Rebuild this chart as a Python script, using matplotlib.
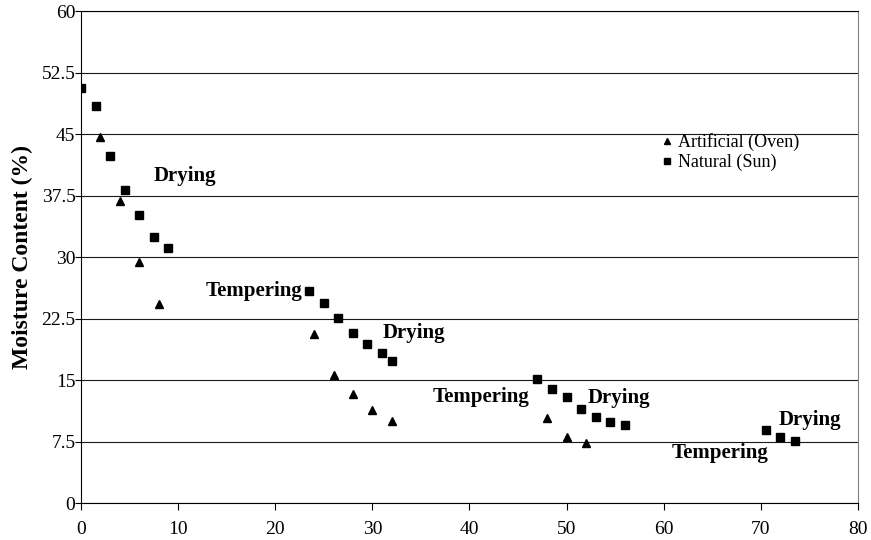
import matplotlib.pyplot as plt
from matplotlib.ticker import MultipleLocator

plt.rcParams['font.family'] = ['Liberation Serif', 'DejaVu Serif']

# drying time (h) vs moisture content (%)
oven_x = [2, 4, 6, 8, 24, 26, 28, 30, 32, 48, 50, 52]
oven_y = [44.6, 36.8, 29.4, 24.3, 20.6, 15.6, 13.3, 11.3, 10.0, 10.4, 8.0, 7.3]

sun_x = [0, 1.5, 3, 4.5, 6, 7.5, 9,
         23.5, 25, 26.5, 28, 29.5, 31, 32,
         47, 48.5, 50, 51.5, 53, 54.5, 56,
         70.5, 72, 73.5]
sun_y = [50.6, 48.4, 42.3, 38.2, 35.1, 32.4, 31.1,
         25.9, 24.4, 22.6, 20.7, 19.4, 18.3, 17.3,
         15.1, 13.9, 12.9, 11.5, 10.5, 9.9, 9.5,
         8.9, 8.0, 7.6]

phase_labels = ['Drying', 'Tempering', 'Drying', 'Tempering', 'Drying', 'Drying', 'Tempering']
phase_x = [10.7, 22.8, 34.3, 41.2, 55.4, 75.1, 65.8]
phase_y = [39.9, 25.9, 20.7, 12.9, 12.8, 10.1, 6.1]
phase_ha = ['center', 'right', 'center', 'center', 'center', 'center', 'center']

fig = plt.figure(figsize=(8.71, 5.40), dpi=100)
ax = fig.add_axes([0.093, 0.0685, 0.892, 0.911])

ax.plot(oven_x, oven_y, linestyle='none', marker='^', color='black', markersize=6,
        label='Artificial (Oven)')
ax.plot(sun_x, sun_y, linestyle='none', marker='s', color='black', markersize=6,
        label='Natural (Sun)')

for lab, x, y, ha in zip(phase_labels, phase_x, phase_y, phase_ha):
    ax.text(x, y, lab, ha=ha, va='center', fontsize=15, fontweight='bold')

ax.set_xlim(0, 80)
ax.set_ylim(0, 60)
ax.xaxis.set_major_locator(MultipleLocator(10))
ax.set_yticks([0, 7.5, 15, 22.5, 30, 37.5, 45, 52.5, 60])
ax.set_yticklabels(['0', '7.5', '15', '22.5', '30', '37.5', '45', '52.5', '60'])
ax.tick_params(labelsize=14, direction='out', color='black')
ax.tick_params(axis='y', length=4, pad=0)
ax.tick_params(axis='x', length=5, pad=8)
ax.yaxis.grid(True, color='#1a1a1a', linewidth=0.8)
ax.set_axisbelow(True)

ax.spines['left'].set_color('black')
ax.spines['bottom'].set_color('black')
ax.spines['top'].set_color('black')
ax.spines['right'].set_color('#808080')

ax.set_ylabel('Moisture Content (%)', fontsize=17, fontweight='bold', labelpad=6)

ax.legend(loc='upper left', bbox_to_anchor=(0.727, 0.785), frameon=False, fontsize=13,
          handlelength=0.6, handletextpad=0.3, labelspacing=0.15, markerscale=0.8)

fig.savefig('out.png', dpi=100)
